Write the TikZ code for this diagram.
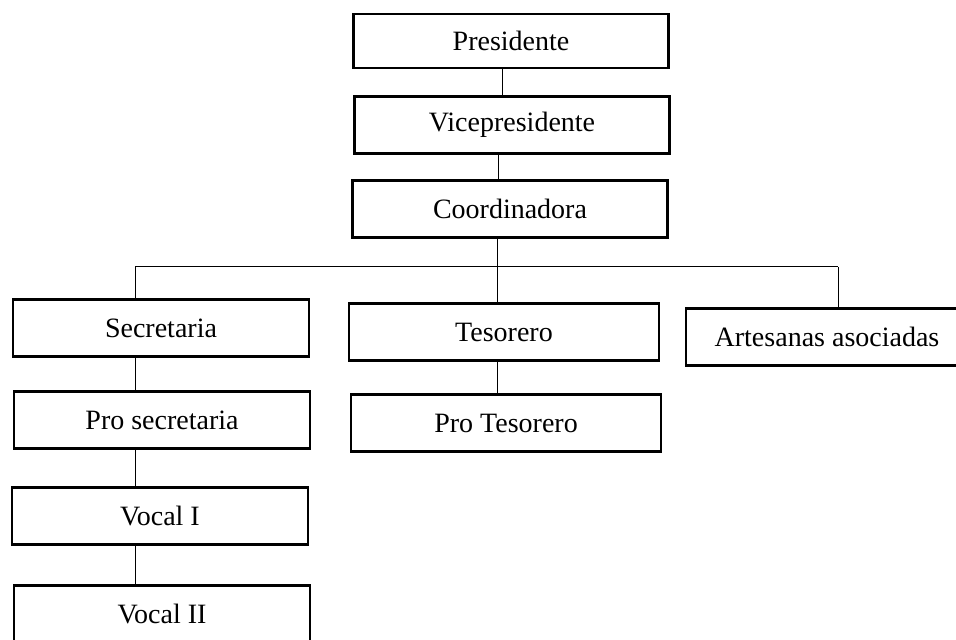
\documentclass[tikz,border=0pt]{standalone}
\usepackage{fontspec}
\setmainfont{Liberation Serif}
\usepackage{tikz}
\usetikzlibrary{positioning}
\tikzstyle{cargo} = [rectangle, 
	minimum height=28.5pt, 
	inner sep=0pt, 
	text centered, 
	draw=black, 
	line width=1.1pt, 
	font=\fontsize{14}{17}\selectfont
	]
\tikzstyle{arriba} = [cargo, minimum width=157.5pt]
\tikzstyle{izq} = [cargo, minimum width=148pt]
\tikzstyle{centro} = [cargo, minimum width=155pt]
\tikzstyle{linea} = [line width=0.5pt]

\begin{document}
\begin{tikzpicture}[x=0.5pt, y=-0.5pt]
\useasboundingbox (0,0) rectangle (956,640);

\node (pres) [arriba, minimum height=27pt] at (511,41) {Presidente};
\node (vice) [arriba] at (512,125) {Vicepresidente};
\node (coord) [arriba] at (510,209) {Coordinadora};

\node (sec) [izq] at (161,328) {Secretaria};
\node (psec) [izq] at (162,420) {Pro secretaria};
\node (voc1) [izq] at (160,516) {Vocal I};
\node (voc2) [izq] at (162,614) {Vocal II};

\node (tes) [centro] at (504,332) {Tesorero};
\node (ptes) [centro] at (506,423) {Pro Tesorero};

\node (art) [cargo, minimum width=141pt] at (827,337) {Artesanas asociadas};

\coordinate (busL) at (135,267);
\coordinate (busR) at (838,267);
\coordinate (bus) at ([xshift=-6.5pt]coord.south |- busL);

\draw [linea] ([xshift=-4.5pt]pres.south) -- ([xshift=-4.5pt]pres.south |- vice.north);
\draw [linea] ([xshift=-7pt]vice.south) -- ([xshift=-7pt]vice.south |- coord.north);
\draw [linea] (bus |- coord.south) -- (bus);

\draw [linea] (busL) -- (busR);
\draw [linea] (busL) -- (busL |- sec.north);
\draw [linea] (bus) -- (bus |- tes.north);
\draw [linea] (busR) -- (busR |- art.north);

\foreach \a/\b in {sec/psec, psec/voc1, voc1/voc2}
	\draw [linea] (busL |- \a.south) -- (busL |- \b.north);
\draw [linea] (bus |- tes.south) -- (bus |- ptes.north);

\end{tikzpicture}
\end{document}
